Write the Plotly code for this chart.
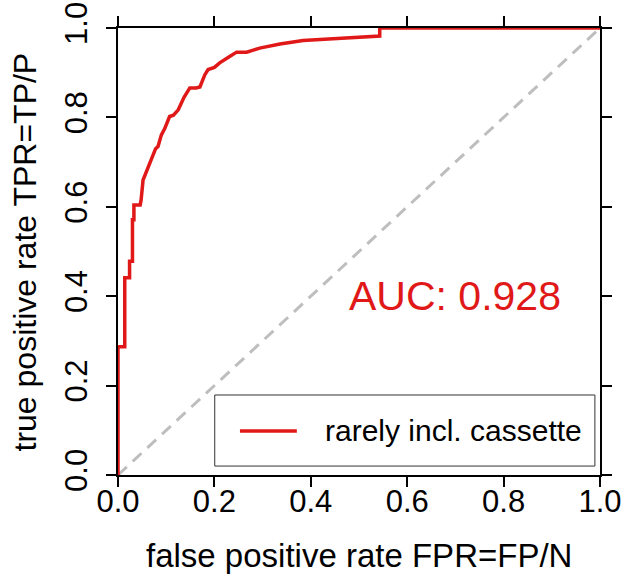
import plotly.graph_objects as go

# ROC curve points
fpr = [0.0, 0.0, 0.014, 0.014, 0.024, 0.024, 0.030, 0.030, 0.033, 0.033, 0.046, 0.048,
       0.052, 0.066, 0.078, 0.083, 0.090, 0.097, 0.107, 0.115, 0.125, 0.137, 0.149,
       0.162, 0.170, 0.180, 0.187, 0.200, 0.211, 0.230, 0.246, 0.267, 0.294, 0.336,
       0.384, 0.446, 0.500, 0.543, 0.543, 1.0]
tpr = [0.0, 0.287, 0.287, 0.441, 0.441, 0.478, 0.478, 0.571, 0.571, 0.604, 0.604, 0.616,
       0.660, 0.698, 0.730, 0.735, 0.761, 0.775, 0.802, 0.805, 0.817, 0.845, 0.866,
       0.866, 0.868, 0.895, 0.907, 0.912, 0.922, 0.935, 0.946, 0.946, 0.955, 0.964,
       0.972, 0.976, 0.980, 0.982, 1.0, 1.0]
diag_x = [0.0, 1.0]
diag_y = [0.0, 1.0]
tick_vals = [0.0, 0.2, 0.4, 0.6, 0.8, 1.0]
tick_text = ["0.0", "0.2", "0.4", "0.6", "0.8", "1.0"]
series_name = "rarely incl. cassette"
auc_label = "AUC: 0.928"

RED = "#E01818"
FONT = "Liberation Sans, Arial, sans-serif"

fig = go.Figure()
fig.add_trace(go.Scatter(x=diag_x, y=diag_y, mode="lines",
                         line=dict(color="#BEBEBE", width=3, dash="12px,8px"),
                         showlegend=False, hoverinfo="skip"))
fig.add_trace(go.Scatter(x=fpr, y=tpr, mode="lines", name=series_name,
                         line=dict(color=RED, width=3.5), showlegend=False))

axis_common = dict(range=[0, 1], showgrid=False, zeroline=False, automargin=False,
                   showline=True, linecolor="black", linewidth=2,
                   mirror="ticks", ticks="outside", ticklen=10, tickwidth=2,
                   tickcolor="black", tickvals=tick_vals, ticktext=tick_text,
                   tickfont=dict(family=FONT, size=31, color="black"),
                   layer="below traces")

fig.update_layout(
    width=626, height=577,
    margin=dict(l=118, r=26, t=28, b=102, autoexpand=False),
    paper_bgcolor="white", plot_bgcolor="white",
    xaxis=dict(**axis_common, ticklabelstandoff=-12),
    yaxis=dict(**axis_common, tickangle=-90, ticklabelstandoff=7),
    showlegend=False,
)

# axis titles
fig.add_annotation(text="false positive rate FPR=FP/N", xref="paper", yref="paper",
                   x=0.5, y=-0.181, xanchor="center", yanchor="middle", showarrow=False,
                   font=dict(family=FONT, size=33, color="black"))
fig.add_annotation(text="true positive rate TPR=TP/P", xref="paper", yref="paper",
                   x=-0.193, y=0.5, xanchor="center", yanchor="middle", textangle=-90,
                   showarrow=False, font=dict(family=FONT, size=32, color="black"))

# AUC label
fig.add_annotation(text=auc_label, x=0.699, y=0.401, xref="x", yref="y",
                   xanchor="center", yanchor="middle", showarrow=False,
                   font=dict(family=FONT, size=41, color=RED))

# legend box
fig.add_shape(type="rect", xref="paper", yref="paper", x0=0.2007, x1=0.9894,
              y0=0.020, y1=0.179, line=dict(color="#333333", width=1),
              fillcolor="white", layer="above")
fig.add_shape(type="line", xref="paper", yref="paper", x0=0.253, x1=0.371,
              y0=0.0985, y1=0.0985, line=dict(color=RED, width=3.5), layer="above")
fig.add_annotation(text=series_name, xref="paper", yref="paper", x=0.425, y=0.0985,
                   xanchor="left", yanchor="middle", showarrow=False,
                   font=dict(family=FONT, size=30, color="black"))

fig.write_html("out.html", config={"displayModeBar": False},
               post_script="document.body.style.margin='0';document.body.style.overflow='hidden';")
